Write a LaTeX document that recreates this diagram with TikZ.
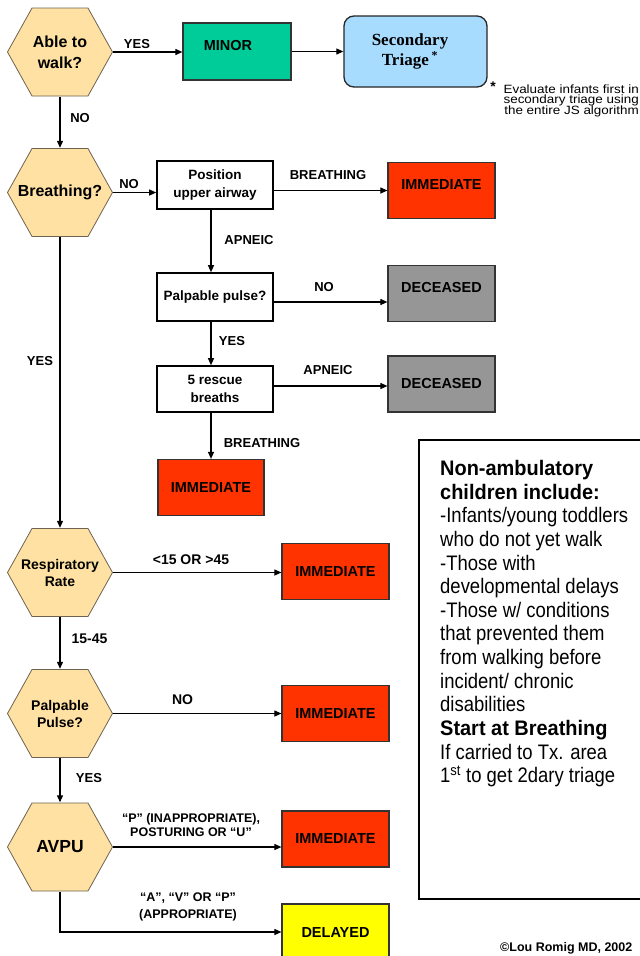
\documentclass[tikz,border=0pt]{standalone}
\usepackage{fontspec}
\setmainfont{Liberation Sans}
\newfontfamily\serifb{Liberation Serif}
\newfontfamily\noteR[FakeStretch=0.88]{Liberation Sans}
\newfontfamily\noteB[FakeStretch=0.95]{Liberation Sans}
\newfontfamily\footf[FakeStretch=1.12]{Liberation Sans}
\newcommand\tightlines{\lineskiplimit=-20pt\relax}
\usetikzlibrary{arrows.meta}
\definecolor{hexfill}{HTML}{FFE2A3}
\definecolor{hexline}{HTML}{6E6250}
\definecolor{minorg}{HTML}{00CC99}
\definecolor{secblue}{HTML}{A8DCFF}
\definecolor{immred}{HTML}{FF3300}
\definecolor{decgray}{HTML}{969696}
\definecolor{delyel}{HTML}{FFFF00}
\tikzset{
  hexa/.style={minimum width=106pt, minimum height=89pt, inner sep=0pt, align=center,
    path picture={
      \path[fill=hexfill, draw=hexline, line width=0.8pt]
        ([xshift=25pt,yshift=-0.5pt]path picture bounding box.north west) --
        ([xshift=-25pt,yshift=-0.5pt]path picture bounding box.north east) --
        ([xshift=-0.5pt]path picture bounding box.east) --
        ([xshift=-25pt,yshift=0.5pt]path picture bounding box.south east) --
        ([xshift=25pt,yshift=0.5pt]path picture bounding box.south west) --
        ([xshift=0.5pt]path picture bounding box.west) -- cycle;}},
  cbox/.style={draw=black, line width=1.6pt, fill=white, inner sep=0pt, minimum width=116pt,
    font=\fontsize{13.5}{18}\selectfont\bfseries, align=center},
  obox/.style={draw=black!80, line width=1.2pt, inner sep=0pt, minimum width=107pt, minimum height=56pt,
    font=\fontsize{14.5}{17}\selectfont\bfseries},
  lbl/.style={inner sep=0pt, font=\fontsize{13}{14.5}\selectfont\bfseries, align=center},
  conn/.style={draw=black, line width=1.1pt, -{Triangle[length=7pt,width=6pt]}},
}
\begin{document}
\begin{tikzpicture}[x=1pt,y=-1pt]
\useasboundingbox (0,0) rectangle (640,956);
\clip (0,0) rectangle (640,956);
\fill[white] (0,0) rectangle (640,956);

% hexagons
\node[hexa, font=\fontsize{16}{21}\selectfont\bfseries] (walk) at (60,52) {Able to\\walk?};
\node[hexa, font=\fontsize{16}{20}\selectfont\bfseries] (breath) at (60,192.5) {Breathing?};
\node[hexa, font=\fontsize{14}{17}\selectfont\bfseries] (resp) at (60,572.5) {Respiratory\\Rate};
\node[hexa, font=\fontsize{14}{17}\selectfont\bfseries] (ppulse) at (60,713.5) {Palpable\\Pulse?};
\node[hexa, font=\fontsize{17.5}{20}\selectfont\bfseries] (avpu) at (60,847) {AVPU};

% top row
\node[obox, fill=minorg, minimum width=108pt, minimum height=57pt, text depth=12pt] (minor) at (237,51.5) {MINOR\hspace*{18pt}};
\node[draw=black!85, line width=1.3pt, rounded corners=10pt, fill=secblue, minimum width=143pt,
  minimum height=71pt, align=center, inner sep=0pt,
  font=\serifb\fontsize{17}{20.5}\selectfont\bfseries] (sec) at (415.5,51.5)
  {Secondary\hspace*{11pt}\\Triage\,\textsuperscript{*}\hspace*{11pt}};
\node[inner sep=0pt, font=\fontsize{14}{14}\selectfont\bfseries] (star) at (493,87) {*};
\node[anchor=north east, inner sep=0pt, align=right,
  font=\footf\fontsize{12}{10.5}\selectfont\tightlines] (foot) at (639,84.5)
  {Evaluate infants first in\\secondary triage using\\the entire JS algorithm};

% breathing branch boxes
\node[cbox, minimum height=48pt] (pos) at (215,185) {Position\\upper airway};
\node[cbox, minimum height=48pt] (palp) at (215,297) {Palpable pulse?};
\node[cbox, minimum height=46pt] (resc) at (215,389) {5 rescue\\breaths};

\node[obox, fill=immred, text depth=11pt] (imm1) at (441.5,190.5) {IMMEDIATE};
\node[obox, fill=decgray, text depth=13pt] (dec1) at (441.5,293.5) {DECEASED};
\node[obox, fill=decgray] (dec2) at (441.5,384) {DECEASED};
\node[obox, fill=immred, minimum width=106pt] (imm2) at (211,487.5) {IMMEDIATE};
\node[obox, fill=immred] (imm3) at (335.5,571.5) {IMMEDIATE};
\node[obox, fill=immred] (imm4) at (335.5,713.5) {IMMEDIATE};
\node[obox, fill=immred] (imm5) at (335.5,839) {IMMEDIATE};
\node[obox, fill=delyel] (del) at (335.5,932) {DELAYED};

% connectors
\draw[conn] (walk.east) -- (walk.east -| minor.west);
\draw[conn] (minor.east) -- (sec.west);
\draw[conn] (walk.south) -- (breath.north);
\draw[conn] (breath.east) -- (breath.east -| pos.west);
\draw[conn] (imm1.west -| pos.east) -- (imm1.west);
\draw[conn] ([xshift=-4pt]pos.south) -- ([xshift=-4pt]palp.north);
\draw[conn] ([yshift=-5pt]palp.east) -- ([yshift=-5pt]palp.east -| dec1.west);
\draw[conn] ([xshift=-4pt]palp.south) -- ([xshift=-4pt]resc.north);
\draw[conn] ([yshift=-2pt]dec2.west -| resc.east) -- ([yshift=-2pt]dec2.west);
\draw[conn] ([xshift=-4pt]resc.south) -- (imm2.north);
\draw[conn] (breath.south) -- (resp.north);
\draw[conn] (resp.east) -- (resp.east -| imm3.west);
\draw[conn] (resp.south) -- (ppulse.north);
\draw[conn] (ppulse.east) -- (ppulse.east -| imm4.west);
\draw[conn] (ppulse.south) -- (avpu.north);
\draw[conn] (avpu.east) -- (avpu.east -| imm5.west);
\draw[conn] (avpu.south) |- (del.west);

% labels
\node[lbl] (lyes1) at (137,44.5) {YES};
\node[lbl] (lno1) at (80,118) {NO};
\node[lbl] (lno2) at (129,184) {NO};
\node[lbl] (lbr1) at (328,175) {BREATHING};
\node[lbl] (lap1) at (249,240) {APNEIC};
\node[lbl] (lno3) at (324,287) {NO};
\node[lbl] (lyes2) at (232,341) {YES};
\node[lbl] (lap2) at (328,370) {APNEIC};
\node[lbl] (lbr2) at (262,443) {BREATHING};
\node[lbl] (lyes3) at (40,361) {YES};
\node[lbl, font=\fontsize{14}{16}\selectfont\bfseries] (lrr) at (191,560) {<15 OR >45};
\node[lbl, font=\fontsize{14}{16}\selectfont\bfseries] (l1545) at (89.5,639) {15-45};
\node[lbl, font=\fontsize{14}{16}\selectfont\bfseries] (lno4) at (182.5,700) {NO};
\node[lbl] (lyes4) at (89,778) {YES};
\node[lbl, font=\fontsize{12.5}{14}\selectfont\bfseries] (lavpu) at (191,825) {“P” (INAPPROPRIATE),\\POSTURING OR “U”};
\node[lbl, font=\fontsize{12.5}{17}\selectfont\bfseries] (ldel) at (188,906.5) {“A”, “V” OR “P”\\(APPROPRIATE)};

% note box
\node[draw=black, line width=1.5pt, minimum width=250pt, minimum height=459pt, anchor=north west, inner sep=0pt] (notebox) at (418,439) {};
\node[anchor=north west, inner sep=0pt, align=left, font=\fontsize{21}{23.65}\selectfont] (note) at (440,460)
  {{\noteB\bfseries Non-ambulatory}\\
   {\noteB\bfseries children include:}\\
   {\noteR -Infants/young toddlers}\\
   {\noteR who do not yet walk}\\
   {\noteR -Those with}\\
   {\noteR developmental delays}\\
   {\noteR -Those w/ conditions}\\
   {\noteR that prevented them}\\
   {\noteR from walking before}\\
   {\noteR incident/ chronic}\\
   {\noteR disabilities}\\
   {\noteB\bfseries Start at Breathing}\\
   {\noteR If carried to Tx. area}\\
   {\noteR 1\textsuperscript{st} to get 2dary triage}};

\node[anchor=base west, inner sep=0pt, font=\fontsize{12.5}{14}\selectfont\bfseries] (copy) at (500,951.5) {©Lou Romig MD, 2002};
\end{tikzpicture}
\end{document}
